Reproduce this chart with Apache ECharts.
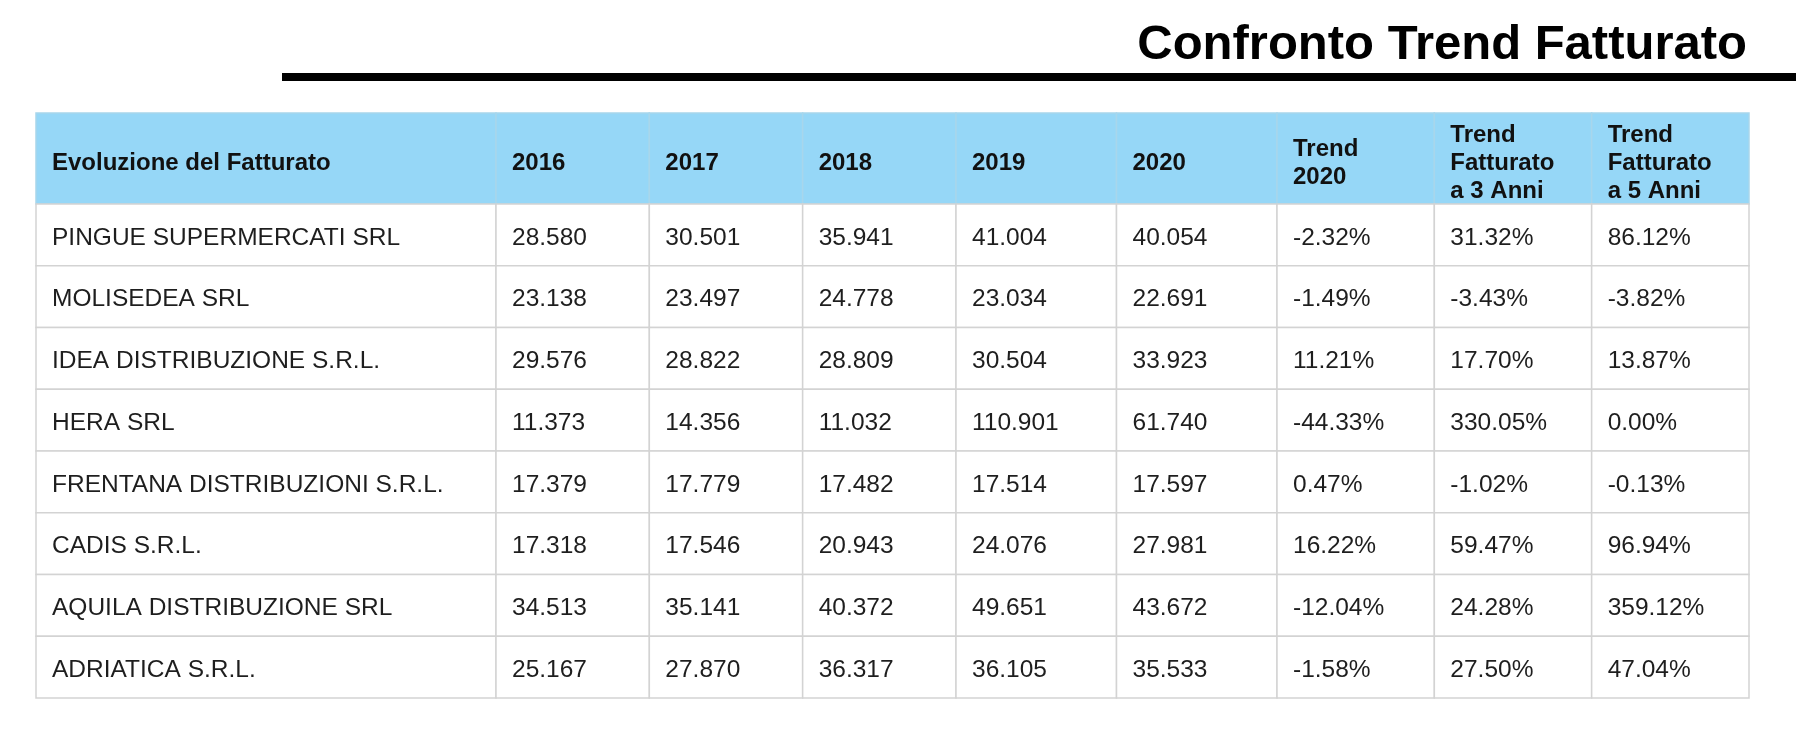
<!DOCTYPE html>
<html>
<head>
<meta charset="utf-8">
<script src="https://cdn.jsdelivr.net/npm/echarts@6.0.0/dist/echarts.min.js"></script>
<style>
html,body{margin:0;padding:0;background:#fff;}
#chart{width:1796px;height:742px;}
</style>
</head>
<body>
<div id="chart"></div>
<script>
// ---- data ----
var titleText = 'Confronto Trend Fatturato';
var firstHeader = 'Evoluzione del Fatturato';
var columnHeaders = ['2016', '2017', '2018', '2019', '2020', 'Trend\n2020', 'Trend\nFatturato\na 3 Anni', 'Trend\nFatturato\na 5 Anni'];
var companies = [
  'PINGUE SUPERMERCATI SRL',
  'MOLISEDEA SRL',
  'IDEA DISTRIBUZIONE S.R.L.',
  'HERA SRL',
  'FRENTANA DISTRIBUZIONI S.R.L.',
  'CADIS S.R.L.',
  'AQUILA DISTRIBUZIONE SRL',
  'ADRIATICA S.R.L.'
];
var rev2016 = [28580, 23138, 29576, 11373, 17379, 17318, 34513, 25167];
var rev2017 = [30501, 23497, 28822, 14356, 17779, 17546, 35141, 27870];
var rev2018 = [35941, 24778, 28809, 11032, 17482, 20943, 40372, 36317];
var rev2019 = [41004, 23034, 30504, 110901, 17514, 24076, 49651, 36105];
var rev2020 = [40054, 22691, 33923, 61740, 17597, 27981, 43672, 35533];
var trend2020 = [-2.32, -1.49, 11.21, -44.33, 0.47, 16.22, -12.04, -1.58];
var trend3y = [31.32, -3.43, 17.70, 330.05, -1.02, 59.47, 24.28, 27.50];
var trend5y = [86.12, -3.82, 13.87, 0.00, -0.13, 96.94, 359.12, 47.04];

// ---- formatting ----
function fmtNum(n) { return String(n).replace(/\B(?=(\d{3})+(?!\d))/g, '.'); }
function fmtPct(n) { return n.toFixed(2) + '%'; }

var columnValues = [rev2016, rev2017, rev2018, rev2019, rev2020, trend2020, trend3y, trend5y];
var columnFormat = [fmtNum, fmtNum, fmtNum, fmtNum, fmtNum, fmtPct, fmtPct, fmtPct];

// layout: column groups (each drawn in its own grid with equal-width bands)
var TOP = 113, HEAD_H = 91, BODY_H = 494;
var NAME_LEFT = 36, NAME_W = 460;
var groups = [
  { cols: [0, 1, 2], left: 496, width: 460 },
  { cols: [3, 4], left: 956, width: 321 },
  { cols: [5, 6, 7], left: 1277, width: 472 }
];

var FONT_FAMILY = '"Liberation Sans", Arial, Helvetica, sans-serif';
var BODY_FONT = '24.5px ' + FONT_FAMILY;
var HEAD_FONT = 'bold 24px ' + FONT_FAMILY;
var GRID_LINE = '#d3d3d3';
var HEAD_FILL = '#96d7f7';
var HEAD_LINE = '#a8d6ec';

function cellRenderer(texts, fill, stroke, font, color, dy, lineHeight) {
  return function (params, api) {
    var c = api.coord([api.value(0), api.value(1)]);
    var s = api.size([1, 1]);
    var x0 = c[0] - s[0] / 2, y0 = c[1] - s[1] / 2;
    return {
      type: 'group',
      children: [
        { type: 'rect', shape: { x: x0, y: y0, width: s[0], height: s[1] },
          style: { fill: fill, stroke: stroke, lineWidth: 1.5 } },
        { type: 'text', x: x0 + 16, y: c[1] + dy,
          style: { text: texts[params.dataIndex], font: font, fill: color,
                   align: 'left', verticalAlign: 'middle', lineHeight: lineHeight } }
      ]
    };
  };
}

var grids = [], xAxes = [], yAxes = [], series = [];
function addCellGrid(left, top, width, height, xCats, yCats, data, texts, fill, stroke, font, color, dy) {
  var idx = grids.length;
  grids.push({ left: left, top: top, width: width, height: height });
  xAxes.push({ gridIndex: idx, type: 'category', data: xCats, show: false });
  yAxes.push({ gridIndex: idx, type: 'category', data: yCats, inverse: true, show: false });
  series.push({ type: 'custom', xAxisIndex: idx, yAxisIndex: idx, data: data,
    renderItem: cellRenderer(texts, fill, stroke, font, color, dy, 28) });
}

// header: name column
addCellGrid(NAME_LEFT, TOP, NAME_W, HEAD_H, [firstHeader], ['header'], [[0, 0]], [firstHeader],
  HEAD_FILL, HEAD_LINE, HEAD_FONT, '#111', 5);
// body: name column
addCellGrid(NAME_LEFT, TOP + HEAD_H, NAME_W, BODY_H, ['name'], companies,
  companies.map(function (c, i) { return [0, i]; }), companies,
  '#fff', GRID_LINE, BODY_FONT, '#1e1e1e', 3);

groups.forEach(function (g) {
  var heads = g.cols.map(function (c) { return columnHeaders[c]; });
  addCellGrid(g.left, TOP, g.width, HEAD_H, heads, ['header'],
    heads.map(function (h, j) { return [j, 0]; }), heads,
    HEAD_FILL, HEAD_LINE, HEAD_FONT, '#111', 5);
  var data = [], texts = [];
  g.cols.forEach(function (c, j) {
    columnValues[c].forEach(function (v, i) { data.push([j, i]); texts.push(columnFormat[c](v)); });
  });
  addCellGrid(g.left, TOP + HEAD_H, g.width, BODY_H, heads, companies, data, texts,
    '#fff', GRID_LINE, BODY_FONT, '#1e1e1e', 3);
});

var chart = echarts.init(document.getElementById('chart'), null, { renderer: 'canvas' });
chart.setOption({
  animation: false,
  backgroundColor: '#ffffff',
  title: {
    text: titleText,
    right: 49,
    top: 21,
    padding: 0,
    textStyle: { fontSize: 49, fontWeight: 'bold', fontFamily: FONT_FAMILY, color: '#000' }
  },
  graphic: [
    { type: 'rect', shape: { x: 282, y: 73, width: 1514, height: 8 }, style: { fill: '#000' } }
  ],
  grid: grids,
  xAxis: xAxes,
  yAxis: yAxes,
  series: series
});
</script>
</body>
</html>
